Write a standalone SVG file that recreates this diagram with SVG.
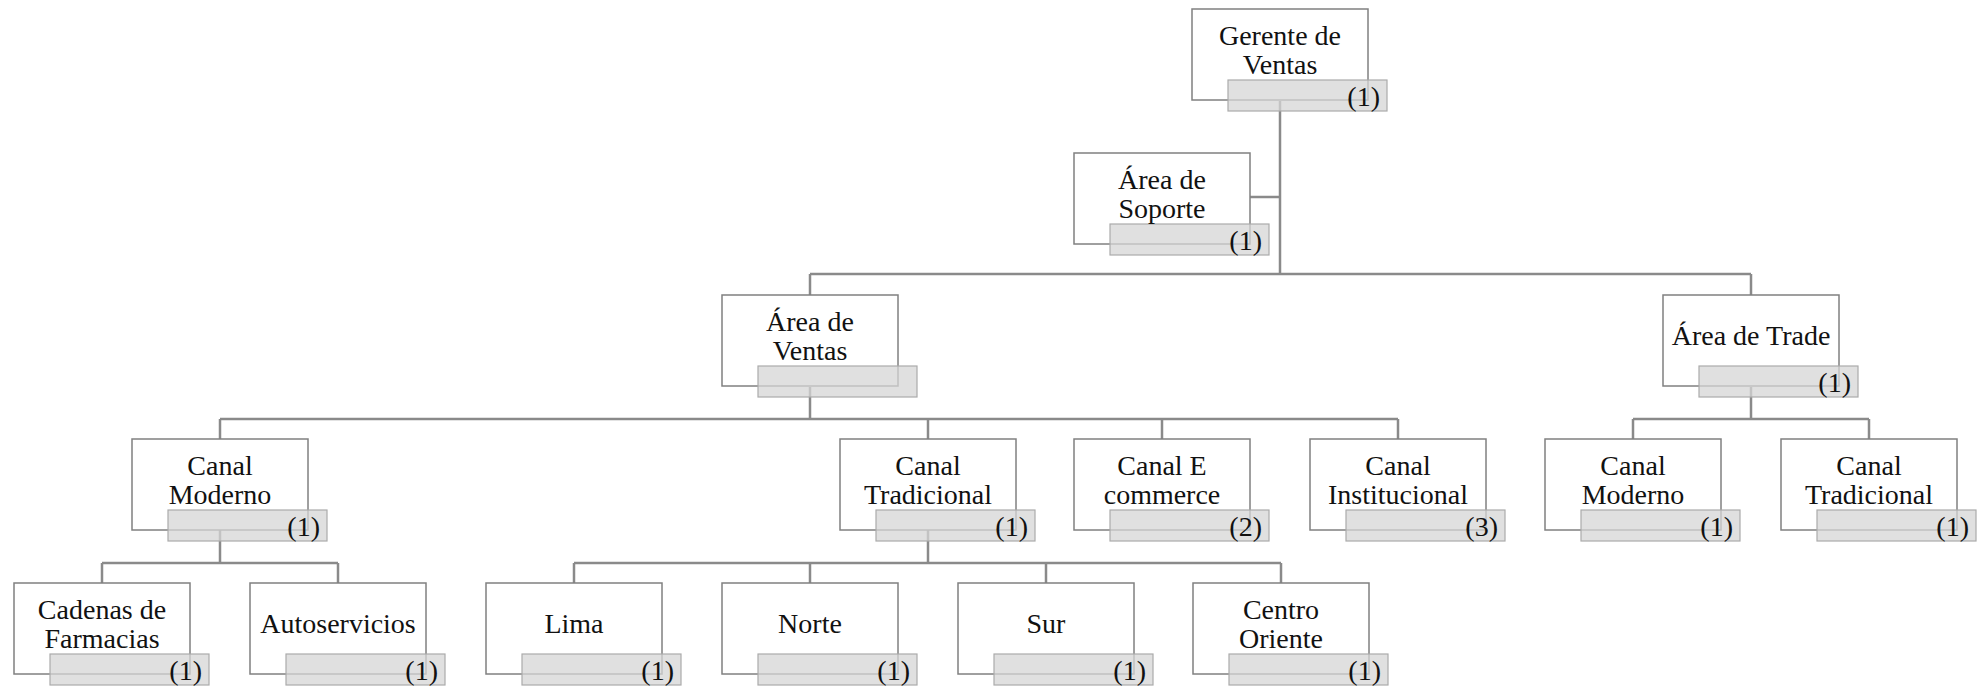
<svg xmlns="http://www.w3.org/2000/svg" width="1988" height="686" viewBox="0 0 1988 686">
  <style>
    .box { fill: #ffffff; stroke: #808080; stroke-width: 1.5; }
    .bar { fill: #d6d6d6; fill-opacity: 0.75; stroke: #ababab; stroke-width: 1.2; }
    .lbl { font-family: "Liberation Serif", "Times New Roman", serif; font-size: 28px; fill: #111111; text-anchor: middle; }
    .cnt { font-family: "Liberation Serif", "Times New Roman", serif; font-size: 28px; fill: #111111; text-anchor: end; }
    .conn { fill: none; stroke: #8a8a8a; stroke-width: 2.5; }
  </style>
  <defs>
    <!-- node frame: 176x91 box with the overlapping count bar -->
    <rect id="frame" class="box" x="0" y="0" width="176" height="91"/>
    <rect id="bar" class="bar" x="36" y="71" width="159" height="31"/>
  </defs>
  <rect width="1988" height="686" fill="#ffffff"/>

  <g id="connectors" class="conn">
    <path d="M1280 101 V274"/>
    <path d="M1250 197 H1280"/>
    <path d="M810 274 H1751"/>
    <path d="M810 274 V295 M1751 274 V295"/>
    <path d="M810 387 V419 M220 419 H1398"/>
    <path d="M220 419 V439 M928 419 V439 M1162 419 V439 M1398 419 V439"/>
    <path d="M1751 387 V419 M1633 419 H1869 M1633 419 V439 M1869 419 V439"/>
    <path d="M220 530 V563 M102 563 H338 M102 563 V583 M338 563 V583"/>
    <path d="M928 530 V563 M574 563 H1281 M574 563 V583 M810 563 V583 M1046 563 V583 M1281 563 V583"/>
  </g>

  <g id="gerente-ventas" transform="translate(1192,9)">
    <use href="#frame"/><use href="#bar"/>
    <text class="lbl" x="88" y="36">Gerente de</text>
    <text class="lbl" x="88" y="65">Ventas</text>
    <text class="cnt" x="188" y="97">(1)</text>
  </g>
  <g id="area-soporte" transform="translate(1074,153)">
    <use href="#frame"/><use href="#bar"/>
    <text class="lbl" x="88" y="36">Área de</text>
    <text class="lbl" x="88" y="65">Soporte</text>
    <text class="cnt" x="188" y="97">(1)</text>
  </g>
  <g id="area-ventas" transform="translate(722,295)">
    <use href="#frame"/><use href="#bar"/>
    <text class="lbl" x="88" y="36">Área de</text>
    <text class="lbl" x="88" y="65">Ventas</text>
  </g>
  <g id="area-trade" transform="translate(1663,295)">
    <use href="#frame"/><use href="#bar"/>
    <text class="lbl" x="88" y="50">Área de Trade</text>
    <text class="cnt" x="188" y="97">(1)</text>
  </g>

  <g id="ventas-canal-moderno" transform="translate(132,439)">
    <use href="#frame"/><use href="#bar"/>
    <text class="lbl" x="88" y="36">Canal</text>
    <text class="lbl" x="88" y="65">Moderno</text>
    <text class="cnt" x="188" y="97">(1)</text>
  </g>
  <g id="ventas-canal-tradicional" transform="translate(840,439)">
    <use href="#frame"/><use href="#bar"/>
    <text class="lbl" x="88" y="36">Canal</text>
    <text class="lbl" x="88" y="65">Tradicional</text>
    <text class="cnt" x="188" y="97">(1)</text>
  </g>
  <g id="canal-ecommerce" transform="translate(1074,439)">
    <use href="#frame"/><use href="#bar"/>
    <text class="lbl" x="88" y="36">Canal E</text>
    <text class="lbl" x="88" y="65">commerce</text>
    <text class="cnt" x="188" y="97">(2)</text>
  </g>
  <g id="canal-institucional" transform="translate(1310,439)">
    <use href="#frame"/><use href="#bar"/>
    <text class="lbl" x="88" y="36">Canal</text>
    <text class="lbl" x="88" y="65">Institucional</text>
    <text class="cnt" x="188" y="97">(3)</text>
  </g>
  <g id="trade-canal-moderno" transform="translate(1545,439)">
    <use href="#frame"/><use href="#bar"/>
    <text class="lbl" x="88" y="36">Canal</text>
    <text class="lbl" x="88" y="65">Moderno</text>
    <text class="cnt" x="188" y="97">(1)</text>
  </g>
  <g id="trade-canal-tradicional" transform="translate(1781,439)">
    <use href="#frame"/><use href="#bar"/>
    <text class="lbl" x="88" y="36">Canal</text>
    <text class="lbl" x="88" y="65">Tradicional</text>
    <text class="cnt" x="188" y="97">(1)</text>
  </g>

  <g id="cadenas-farmacias" transform="translate(14,583)">
    <use href="#frame"/><use href="#bar"/>
    <text class="lbl" x="88" y="36">Cadenas de</text>
    <text class="lbl" x="88" y="65">Farmacias</text>
    <text class="cnt" x="188" y="97">(1)</text>
  </g>
  <g id="autoservicios" transform="translate(250,583)">
    <use href="#frame"/><use href="#bar"/>
    <text class="lbl" x="88" y="50">Autoservicios</text>
    <text class="cnt" x="188" y="97">(1)</text>
  </g>
  <g id="lima" transform="translate(486,583)">
    <use href="#frame"/><use href="#bar"/>
    <text class="lbl" x="88" y="50">Lima</text>
    <text class="cnt" x="188" y="97">(1)</text>
  </g>
  <g id="norte" transform="translate(722,583)">
    <use href="#frame"/><use href="#bar"/>
    <text class="lbl" x="88" y="50">Norte</text>
    <text class="cnt" x="188" y="97">(1)</text>
  </g>
  <g id="sur" transform="translate(958,583)">
    <use href="#frame"/><use href="#bar"/>
    <text class="lbl" x="88" y="50">Sur</text>
    <text class="cnt" x="188" y="97">(1)</text>
  </g>
  <g id="centro-oriente" transform="translate(1193,583)">
    <use href="#frame"/><use href="#bar"/>
    <text class="lbl" x="88" y="36">Centro</text>
    <text class="lbl" x="88" y="65">Oriente</text>
    <text class="cnt" x="188" y="97">(1)</text>
  </g>
</svg>
